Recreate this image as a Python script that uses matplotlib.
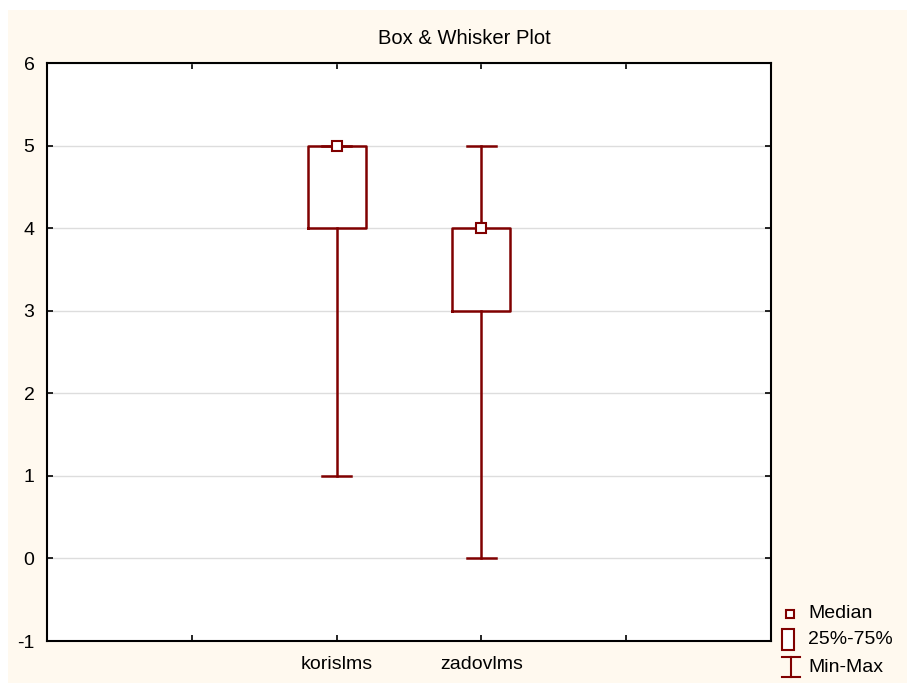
import matplotlib
matplotlib.use('Agg')
import matplotlib.pyplot as plt
from matplotlib.patches import Rectangle
from matplotlib.lines import Line2D

# Dados
variaveis = ['korislms', 'zadovlms']
posicoes = [2, 3]
minimos = [1, 0]
q1 = [4, 3]
medianas = [5, 4]
q3 = [5, 4]
maximos = [5, 5]

cor = '#800000'
fundo = '#fff9ef'

plt.rcParams['font.family'] = ['Liberation Sans', 'DejaVu Sans']
plt.rcParams['axes.unicode_minus'] = False

fig = plt.figure(figsize=(9.07, 6.84), dpi=100)
fig.patch.set_facecolor('white')
# painel creme atrás de tudo
fig.patches.append(Rectangle((8 / 907, 1 / 684), 899 / 907, 673 / 684,
                             transform=fig.transFigure, facecolor=fundo,
                             edgecolor='none', zorder=-10))

ax = fig.add_axes([47 / 907, 43 / 684, 724 / 907, 578 / 684])
ax.set_facecolor('white')

stats = []
for i, nome in enumerate(variaveis):
    stats.append(dict(label=nome, whislo=minimos[i], q1=q1[i], med=medianas[i],
                      q3=q3[i], whishi=maximos[i], fliers=[]))

ax.bxp(stats, positions=posicoes, widths=0.4, capwidths=0.2, showfliers=False,
       boxprops=dict(color=cor, linewidth=1.8),
       whiskerprops=dict(color=cor, linewidth=1.8),
       capprops=dict(color=cor, linewidth=1.8),
       medianprops=dict(linestyle='none'),
       zorder=3)
ax.plot(posicoes, medianas, linestyle='none', marker='s', markersize=7,
        markerfacecolor='white', markeredgecolor=cor, markeredgewidth=1.5, zorder=4)

ax.set_xlim(0, 5)
ax.set_ylim(-1, 6)
ax.set_xticks([1, 2, 3, 4])
ax.set_xticklabels(['', variaveis[0], variaveis[1], ''])
ax.set_yticks(range(-1, 7))
ax.yaxis.grid(True, color='#dddddd', linewidth=1)
ax.set_axisbelow(True)
ax.tick_params(direction='in', length=4, width=1.2, top=True, right=True,
               labelsize=14, colors='black')
ax.tick_params(axis='x', pad=11)
ax.tick_params(axis='y', pad=9)
for s in ax.spines.values():
    s.set_linewidth(1.5)
    s.set_color('black')

fig.text(464 / 907, 1 - 38 / 684, 'Box & Whisker Plot', ha='center', va='center',
         fontsize=14.5)

# Legenda desenhada à mão
tr = fig.transFigure
W, H = 907, 684
def fx(x):
    return x / W
def fy(y):
    return 1 - y / H

fig.add_artist(Line2D([fx(790)], [fy(614)], marker='s', markersize=5.5,
                      markerfacecolor='white', markeredgecolor=cor,
                      markeredgewidth=1.5, transform=tr))
fig.add_artist(Rectangle((fx(782), fy(650)), 12 / W, 21 / H, transform=tr,
                         facecolor='white', edgecolor=cor, linewidth=1.5))
fig.add_artist(Line2D([fx(791), fx(791)], [fy(657), fy(677)], color=cor,
                      linewidth=1.5, transform=tr))
fig.add_artist(Line2D([fx(782), fx(800)], [fy(657), fy(657)], color=cor,
                      linewidth=1.5, transform=tr))
fig.add_artist(Line2D([fx(782), fx(800)], [fy(677), fy(677)], color=cor,
                      linewidth=1.5, transform=tr))
for texto, y in [('Median', 614), ('25%-75%', 639), ('Min-Max', 667)]:
    fig.text(fx(808), fy(y), texto, ha='left', va='center', fontsize=14)

fig.savefig('out.png', dpi=100, facecolor=fig.get_facecolor())
